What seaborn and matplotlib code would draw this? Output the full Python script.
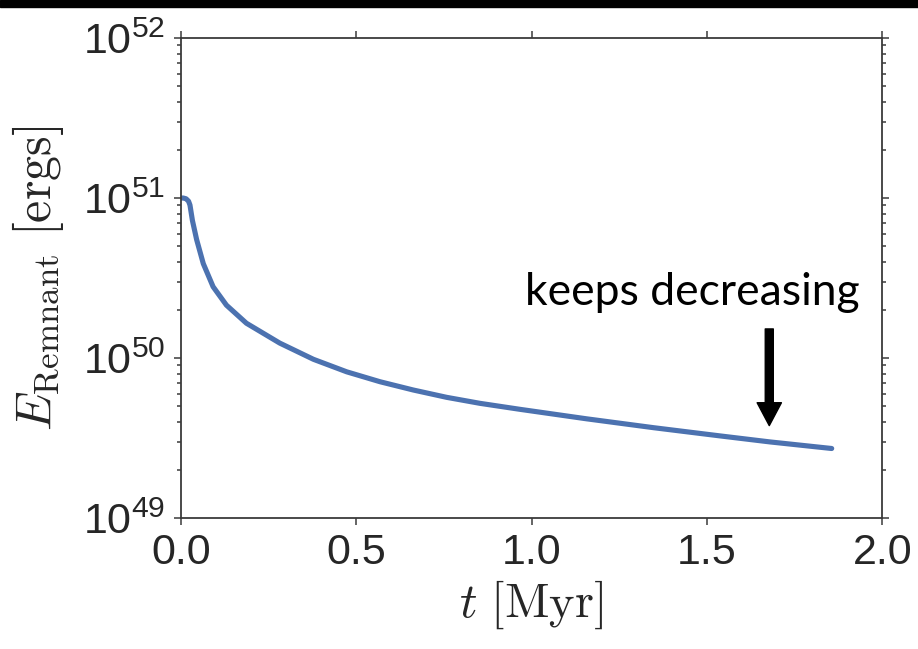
import numpy as np
import pandas as pd
import seaborn as sns
import matplotlib
matplotlib.use("Agg")
import matplotlib.pyplot as plt
from matplotlib.patches import Rectangle
from matplotlib.ticker import LogLocator, NullFormatter

# Remnant energy versus time
time_myr = [0.0, 0.007, 0.015, 0.022, 0.026, 0.033, 0.045, 0.064, 0.092,
            0.130, 0.187, 0.282, 0.378, 0.473, 0.568, 0.663, 0.758, 0.853,
            0.967, 1.157, 1.348, 1.538, 1.680, 1.856]
energy_erg = [1.00e51, 1.00e51, 9.89e50, 9.55e50, 9.04e50, 7.24e50, 5.50e50,
              3.89e50, 2.79e50, 2.14e50, 1.65e50, 1.24e50, 9.82e49, 8.20e49,
              7.11e49, 6.31e49, 5.68e49, 5.21e49, 4.78e49, 4.17e49, 3.67e49,
              3.26e49, 2.99e49, 2.72e49]

x_ticks = [0.0, 0.5, 1.0, 1.5, 2.0]
y_ticks = [1e49, 1e50, 1e51, 1e52]
note_text = "keeps decreasing"

sns.set_theme(style="ticks")
plt.rcParams.update({
    "font.family": ["Liberation Sans", "DejaVu Sans"],
    "mathtext.fontset": "custom",
    "mathtext.rm": "Liberation Sans",
    "mathtext.it": "Liberation Sans:italic",
    "mathtext.bf": "Liberation Sans:bold",
    "axes.edgecolor": "#3a3a3a",
    "xtick.color": "#3a3a3a",
    "ytick.color": "#3a3a3a",
    "xtick.labelcolor": "#262626",
    "ytick.labelcolor": "#262626",
})

df = pd.DataFrame({"t": time_myr, "E": energy_erg})

fig = plt.figure(figsize=(9.18, 6.49), dpi=100)
ax = fig.add_axes([0.197, 0.2018, 0.764, 0.7396])

sns.lineplot(data=df, x="t", y="E", ax=ax, color="#4C72B0", lw=3.7,
             sort=False, estimator=None, solid_capstyle="round",
             solid_joinstyle="round")

ax.set_yscale("log")
ax.set_xlim(0.0, 2.0)
ax.set_ylim(1e49, 1e52)
ax.set_xticks(x_ticks)
ax.set_yticks(y_ticks)
ax.yaxis.set_minor_locator(LogLocator(base=10, subs=np.arange(2, 10)))
ax.yaxis.set_minor_formatter(NullFormatter())

for s in ax.spines.values():
    s.set_visible(True)
    s.set_linewidth(1.3)

ax.tick_params(which="both", direction="out", top=True, right=True,
               labelsize=31, width=1.1)
ax.tick_params(which="major", length=5, pad=6)
ax.tick_params(which="minor", length=3)

ax.set_xlabel(r"$t\ [\mathrm{Myr}]$", fontsize=35, math_fontfamily="cm",
              color="#262626", labelpad=4)
ax.set_ylabel(r"$E_{\mathrm{Remnant}}\ [\mathrm{ergs}]$", fontsize=36,
              math_fontfamily="cm", color="#262626", labelpad=12)

# annotation
ax.text(1.458, 2.55e50, note_text, fontsize=32, family="Lato",
        color="black", ha="center", va="center")
ax.annotate("", xy=(1.678, 3.78e49), xytext=(1.678, 1.52e50),
            arrowprops=dict(arrowstyle="simple,head_length=16.5,head_width=17.5,tail_width=5.8",
                            mutation_scale=1, color="black", shrinkA=0, shrinkB=0))

fig.patches.append(Rectangle((0, 1 - 7 / 649), 1, 7 / 649, transform=fig.transFigure,
                             color="black", zorder=10))

fig.savefig("out.png", dpi=100)
